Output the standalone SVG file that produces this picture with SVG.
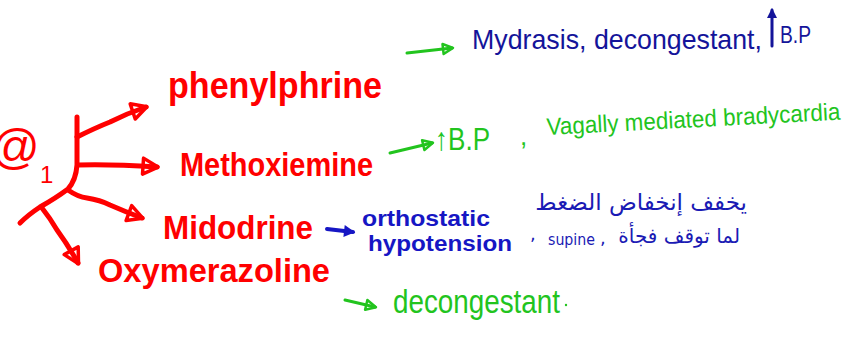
<svg xmlns="http://www.w3.org/2000/svg" width="859" height="338" viewBox="0 0 859 338">
<style>
.red{fill:#ff0000;font-family:"Liberation Sans",Arial,sans-serif;font-weight:bold}
.navy{fill:#14149a;font-family:"Liberation Sans",Arial,sans-serif}
.blue{fill:#1616c4;font-family:"Liberation Sans",Arial,sans-serif;font-weight:bold}
.green{fill:#22c41e;font-family:"Liberation Sans",Arial,sans-serif}
.ar{fill:#1a1ab4;font-family:"DejaVu Sans","Noto Sans",sans-serif}
.rl{fill:none;stroke:#ff0000;stroke-width:5;stroke-linecap:round;stroke-linejoin:round}
.gl{fill:none;stroke:#22c41e;stroke-width:3;stroke-linecap:round}
.bl{fill:none;stroke:#1616c4;stroke-width:4;stroke-linecap:round}
.nl{fill:none;stroke:#14149a;stroke-width:3;stroke-linecap:round}
</style>
<defs>
<marker id="mr" markerUnits="userSpaceOnUse" markerWidth="24" markerHeight="24" refX="15" refY="9" orient="auto" overflow="visible">
<path d="M1,1 L16,9 L1,17 Z" fill="none" stroke="#ff0000" stroke-width="3.5" stroke-linejoin="round"/>
</marker>
<marker id="mg" markerUnits="userSpaceOnUse" markerWidth="16" markerHeight="16" refX="10" refY="6" orient="auto" overflow="visible">
<path d="M1,1 L11,6 L1,11 Z" fill="none" stroke="#22c41e" stroke-width="2.5" stroke-linejoin="round"/>
</marker>
<marker id="mb" markerUnits="userSpaceOnUse" markerWidth="16" markerHeight="16" refX="9" refY="6" orient="auto" overflow="visible">
<path d="M0,0 L11,6 L0,12 Z" fill="#1616c4"/>
</marker>
<marker id="mn" markerUnits="userSpaceOnUse" markerWidth="16" markerHeight="16" refX="8" refY="5" orient="auto" overflow="visible">
<path d="M0,0 L10,5 L0,10 Z" fill="#14149a"/>
</marker>
</defs>

<g id="alpha1">
<text class="red" x="-9" y="163" font-size="48" style="font-weight:normal">@</text>
<text class="red" x="40" y="183" font-size="24" style="font-weight:normal">1</text>
</g>

<g id="connectors">
<path class="rl" d="M77,117 L77,165 Q76,180 68,189 Q56,198 40,207 Q28,215 20,223"/>
<path class="rl" d="M77,137 Q95,128 110,122 Q128,113 146,107" marker-end="url(#mr)"/>
<path class="rl" d="M78,165 Q110,164 157,167" marker-end="url(#mr)"/>
<path class="rl" d="M68,190 Q78,197 87,198 Q100,200 110,205 Q126,212 142,218" marker-end="url(#mr)"/>
<path class="rl" d="M42,208 Q50,218 57,230 Q68,245 78,263" marker-end="url(#mr)"/>
<path class="gl" d="M407,53 L452,48" marker-end="url(#mg)"/>
<path class="gl" d="M390,153 L432,143" marker-end="url(#mg)"/>
<path class="gl" d="M345,300 L375,307" marker-end="url(#mg)"/>
<path class="bl" d="M327,229 L353,232" marker-end="url(#mb)"/>
</g>

<g id="phenylphrine">
<text class="red" x="168" y="98" font-size="36" textLength="214" lengthAdjust="spacingAndGlyphs">phenylphrine</text>
</g>
<g id="methoxiemine">
<text class="red" x="180" y="176" font-size="34" textLength="193" lengthAdjust="spacingAndGlyphs">Methoxiemine</text>
</g>
<g id="midodrine">
<text class="red" x="163" y="239" font-size="33" textLength="150" lengthAdjust="spacingAndGlyphs">Midodrine</text>
</g>
<g id="oxymetazoline">
<text class="red" x="98" y="282" font-size="33" textLength="232" lengthAdjust="spacingAndGlyphs">Oxymerazoline</text>
</g>

<g id="phenylephrine-effects">
<text class="navy" x="472" y="49" font-size="28" textLength="290" lengthAdjust="spacingAndGlyphs">Mydrasis, decongestant,</text>
<path class="nl" d="M772,46 L772,10" marker-end="url(#mn)"/>
<text class="navy" x="780" y="43" font-size="24" textLength="31" lengthAdjust="spacingAndGlyphs">B.P</text>
</g>

<g id="methoxamine-effects">
<text class="green" x="435" y="150" font-size="32" textLength="55" lengthAdjust="spacingAndGlyphs">↑B.P</text>
<text class="green" x="520" y="145" font-size="26">,</text>
<text class="green" x="547" y="135" font-size="24" transform="rotate(-3 547 135)" textLength="294" lengthAdjust="spacingAndGlyphs">Vagally mediated bradycardia</text>
</g>

<g id="midodrine-effects">
<text class="blue" x="362" y="226" font-size="22" textLength="128" lengthAdjust="spacingAndGlyphs">orthostatic</text>
<text class="blue" x="368" y="251" font-size="22" textLength="144" lengthAdjust="spacingAndGlyphs">hypotension</text>
<text class="ar" x="747" y="210" font-size="23" text-anchor="end">يخفف إنخفاض الضغط</text>
<text class="ar" x="530" y="240" font-size="18">,</text>
<text class="ar" x="548" y="245" font-size="16" textLength="47" lengthAdjust="spacingAndGlyphs">supine</text>
<text class="ar" x="600" y="244" font-size="18">,</text>
<text class="ar" x="740" y="243" font-size="20" text-anchor="end">لما توقف فجأة</text>
</g>

<g id="oxymetazoline-effects">
<text class="green" x="393" y="313" font-size="34" textLength="167" lengthAdjust="spacingAndGlyphs">decongestant</text>
<circle cx="566" cy="305" r="1.2" fill="#22c41e"/>
</g>
</svg>
